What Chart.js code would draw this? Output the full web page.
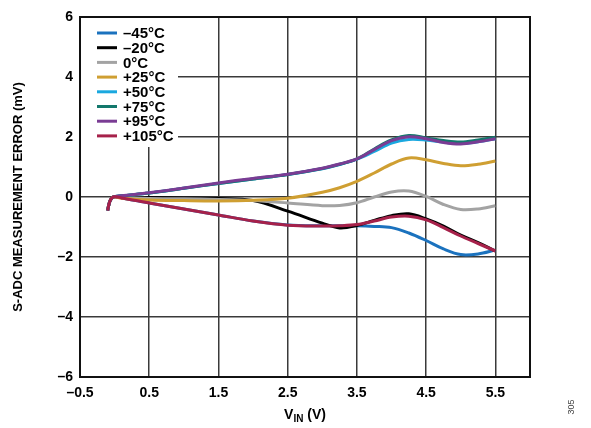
<!DOCTYPE html>
<html>
<head>
<meta charset="utf-8">
<script src="https://cdn.jsdelivr.net/npm/chart.js@4/dist/chart.umd.min.js"></script>
<style>
  html, body { margin: 0; padding: 0; background: #fff; }
  #wrap { width: 591px; height: 428px; position: relative; }
</style>
</head>
<body>
<div id="wrap"><canvas id="chart" width="591" height="428"></canvas></div>
<script>
// input voltage samples (V), shared by every temperature curve
const vin = [-0.1, -0.07, -0.02, 0.1, 0.5, 1.0, 1.5, 2.0, 2.5, 3.0, 3.25, 3.5, 3.75, 4.0, 4.25, 4.5, 4.75, 5.0, 5.25, 5.5];

// measurement error (mV) per temperature
const errM45  = [-0.45, -0.15, 0.0, -0.03, -0.2, -0.4, -0.6, -0.8, -0.93, -0.96, -0.96, -0.96, -0.98, -1.02, -1.2, -1.45, -1.73, -1.92, -1.9, -1.77];
const errM20  = [-0.45, -0.15, 0.0, -0.01, -0.02, -0.03, -0.05, -0.12, -0.47, -0.87, -1.03, -0.95, -0.78, -0.62, -0.56, -0.73, -0.97, -1.27, -1.52, -1.8];
const err0    = [-0.45, -0.15, 0.0, -0.02, -0.05, -0.06, -0.08, -0.12, -0.2, -0.29, -0.28, -0.19, 0.0, 0.17, 0.2, 0.02, -0.25, -0.42, -0.4, -0.29];
const errP25  = [-0.45, -0.15, 0.0, -0.04, -0.1, -0.12, -0.13, -0.11, -0.04, 0.16, 0.31, 0.52, 0.8, 1.1, 1.3, 1.24, 1.12, 1.04, 1.09, 1.2];
const errP50  = [-0.45, -0.15, 0.0, 0.04, 0.13, 0.29, 0.45, 0.6, 0.75, 0.94, 1.08, 1.26, 1.52, 1.8, 1.92, 1.9, 1.83, 1.78, 1.84, 1.94];
const errP75  = [-0.45, -0.15, 0.0, 0.04, 0.13, 0.29, 0.45, 0.6, 0.75, 0.95, 1.09, 1.27, 1.6, 1.9, 2.05, 1.97, 1.88, 1.83, 1.9, 1.99];
const errP95  = [-0.45, -0.15, 0.0, 0.04, 0.14, 0.3, 0.47, 0.62, 0.76, 0.96, 1.1, 1.27, 1.58, 1.88, 2.01, 1.94, 1.82, 1.77, 1.84, 1.94];
const errP105 = [-0.45, -0.15, 0.0, -0.03, -0.2, -0.4, -0.6, -0.8, -0.94, -0.97, -0.96, -0.92, -0.8, -0.67, -0.64, -0.76, -1.02, -1.3, -1.55, -1.8];

const seriesLabels = ['\u201345\u00b0C', '\u201320\u00b0C', '0\u00b0C', '+25\u00b0C', '+50\u00b0C', '+75\u00b0C', '+95\u00b0C', '+105\u00b0C'];
const seriesValues = [errM45, errM20, err0, errP25, errP50, errP75, errP95, errP105];
const seriesColors = ['#1b72be', '#000000', '#a3a3a3', '#cf9f32', '#1aa8df', '#13786c', '#7a3c94', '#a6214a'];

const xTicks = [-0.5, 0.5, 1.5, 2.5, 3.5, 4.5, 5.5];

const FONT = "'Liberation Sans', Arial, sans-serif";
const dash = s => String(s).replace('-', '\u2013');

// legend box sitting inside the top-left corner of the plot
const insideLegend = {
  id: 'insideLegend',
  beforeDatasetsDraw(chart) {
    const { ctx, chartArea } = chart;
    const x0 = chartArea.left, y0 = chartArea.top;
    ctx.save();
    ctx.fillStyle = '#fff';
    ctx.fillRect(x0 + 1, y0 + 1, 97, 129);
    ctx.font = 'bold 15px ' + FONT;
    ctx.textBaseline = 'middle';
    chart.data.datasets.forEach((ds, i) => {
      const y = y0 + 16 + i * 14.7;
      ctx.strokeStyle = ds.borderColor;
      ctx.lineWidth = 3;
      ctx.beginPath();
      ctx.moveTo(x0 + 17, y);
      ctx.lineTo(x0 + 37, y);
      ctx.stroke();
      ctx.fillStyle = '#000';
      ctx.fillText(ds.label, x0 + 43, y + 1);
    });
    ctx.restore();
  }
};

// frame, x-axis title with subscript and the figure number
const frameAndTitles = {
  id: 'frameAndTitles',
  afterDraw(chart) {
    const { ctx, chartArea } = chart;
    ctx.save();
    ctx.strokeStyle = '#111';
    ctx.lineWidth = 2;
    ctx.strokeRect(chartArea.left, chartArea.top, chartArea.right - chartArea.left, chartArea.bottom - chartArea.top);

    const big = 'bold 14px ' + FONT, small = 'bold 10px ' + FONT;
    ctx.fillStyle = '#000';
    ctx.textBaseline = 'alphabetic';
    ctx.font = big;
    const wV = ctx.measureText('V').width;
    const wRest = ctx.measureText(' (V)').width;
    ctx.font = small;
    const wSub = ctx.measureText('IN').width;
    let x = 305 - (wV + wSub + wRest) / 2;
    const base = 419;
    ctx.font = big;
    ctx.fillText('V', x, base);
    x += wV;
    ctx.font = small;
    ctx.fillText('IN', x, base + 3);
    x += wSub;
    ctx.font = big;
    ctx.fillText(' (V)', x, base);

    ctx.translate(572, 407);
    ctx.rotate(-Math.PI / 2);
    ctx.font = '9px ' + FONT;
    ctx.fillStyle = '#444';
    ctx.textAlign = 'center';
    ctx.textBaseline = 'middle';
    ctx.fillText('305', 0, 0);
    ctx.restore();
  }
};

const datasets = seriesValues.map((vals, i) => ({
  label: seriesLabels[i],
  data: vals.map((v, j) => ({ x: vin[j], y: v })),
  borderColor: seriesColors[i],
  borderWidth: 3,
  pointRadius: 0,
  tension: 0.35,
  fill: false,
  order: seriesValues.length - i
}));

new Chart(document.getElementById('chart'), {
  type: 'line',
  data: { datasets },
  options: {
    responsive: false,
    animation: false,
    events: [],
    layout: { padding: { top: 17, right: 61, left: 0, bottom: 0 } },
    plugins: { legend: { display: false }, tooltip: { enabled: false } },
    scales: {
      x: {
        type: 'linear',
        min: -0.5,
        max: 6.0,
        afterBuildTicks: axis => { axis.ticks = xTicks.map(v => ({ value: v })); },
        afterFit: s => { s.height = 51; },
        grid: { color: '#3a3a3a', lineWidth: 1.5, drawTicks: false },
        border: { display: false },
        ticks: {
          padding: 8,
          color: '#000',
          font: { family: FONT, size: 14, weight: 'bold' },
          maxRotation: 0,
          callback: v => dash(v.toFixed(1))
        }
      },
      y: {
        min: -6,
        max: 6,
        afterFit: s => { s.width = 80; },
        grid: { color: '#3a3a3a', lineWidth: 1.5, drawTicks: false },
        border: { display: false },
        ticks: {
          stepSize: 2,
          padding: 7,
          color: '#000',
          font: { family: FONT, size: 14, weight: 'bold' },
          callback: v => dash(v)
        },
        title: {
          display: true,
          text: 'S-ADC MEASUREMENT ERROR (mV)',
          color: '#000',
          font: { family: FONT, size: 13, weight: 'bold' },
          padding: { top: 11, bottom: 0 }
        }
      }
    }
  },
  plugins: [insideLegend, frameAndTitles]
});
</script>
</body>
</html>
